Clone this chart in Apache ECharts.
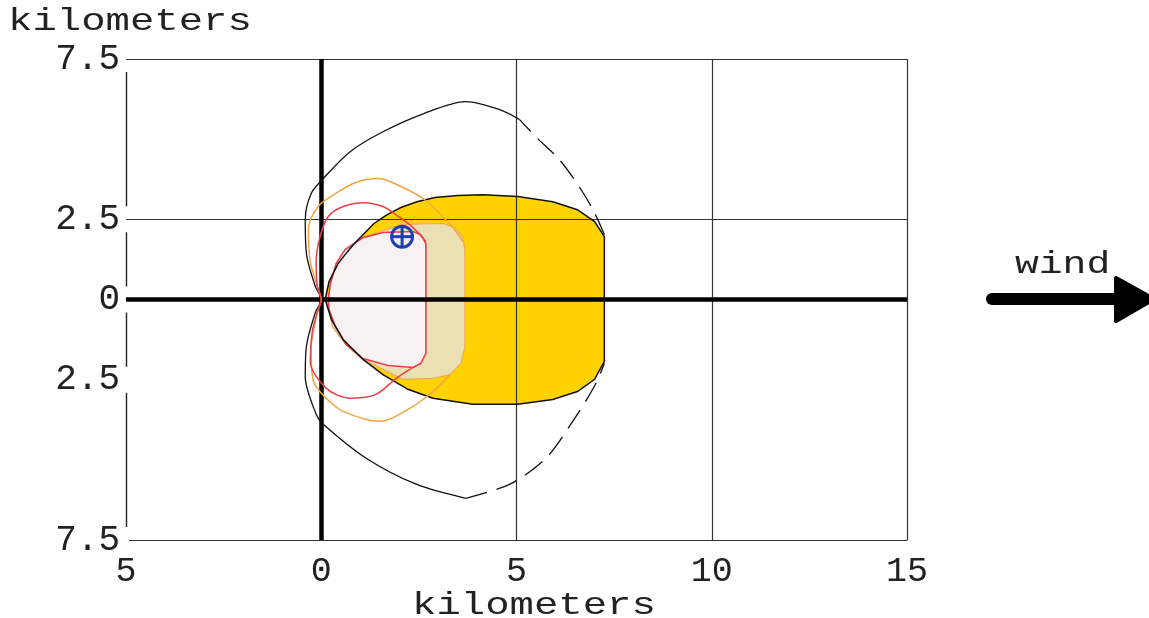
<!DOCTYPE html>
<html>
<head>
<meta charset="utf-8">
<title>Threat zone</title>
<script src="https://cdn.jsdelivr.net/npm/echarts@6/dist/echarts.min.js"></script>
<style>
  html, body { margin: 0; padding: 0; background: #fff; }
  #chart { width: 1149px; height: 618px; }
</style>
</head>
<body>
<div id="chart"></div>
<script>
// Axis ticks (km)
const xTicks = [-5, 0, 5, 10, 15];
const yLabelled = [-7.5, -2.5, 0, 2.5, 7.5];

// Threat zones, outline points in km (downwind x, crosswind y)
const yellowZone = [[0.10,0],[0.20,0.56],[0.43,1.12],[0.61,1.40],[0.82,1.71],[1.07,2.02],[1.35,2.37],[1.69,2.65],[2.04,2.87],[2.45,3.05],[2.91,3.18],[3.50,3.24],[4.14,3.27],[5.03,3.21],[5.93,3.05],[6.56,2.80],[7.00,2.43],[7.25,1.96],[7.25,-1.93],[7.00,-2.49],[6.56,-2.87],[5.93,-3.12],[5.03,-3.27],[3.88,-3.27],[2.86,-3.08],[2.22,-2.80],[1.58,-2.34],[1.07,-1.87],[0.56,-1.25],[0.26,-0.62]];
const orangeZone = [[0.18,0],[0.23,0.47],[0.38,1.06],[0.64,1.53],[1.07,1.90],[1.58,2.15],[2.09,2.34],[3.12,2.37],[3.42,2.24],[3.63,1.93],[3.68,1.50],[3.68,-1.46],[3.58,-1.99],[3.30,-2.34],[2.86,-2.46],[2.09,-2.49],[1.58,-2.18],[1.07,-1.87],[0.64,-1.43],[0.28,-0.84],[0.20,-0.31]];
const redZone = [[0.18,0],[0.23,0.47],[0.38,1.12],[0.61,1.56],[1.07,1.93],[1.58,2.09],[2.35,2.12],[2.55,2.02],[2.68,1.74],[2.68,-1.68],[2.55,-1.99],[2.35,-2.12],[1.71,-2.06],[1.07,-1.84],[0.64,-1.40],[0.36,-0.84],[0.20,-0.31]];

// Wind direction confidence lines (km)
const yellowConfSolid = [[5.08,5.61],[4.57,5.92],[3.70,6.17],[2.61,5.79],[1.58,5.23],[0.74,4.61],[0.05,3.77],[-0.26,3.30],[-0.41,2.49],[-0.38,1.43],[-0.15,0.40],[0,0],[-0.15,-0.40],[-0.38,-1.46],[-0.41,-2.40],[-0.13,-3.58],[0.05,-3.89],[1.15,-4.95],[2.43,-5.76],[3.70,-6.20]];
const yellowConfDashUpper = [[7.25,2.02],[7.02,2.65],[6.69,3.36],[6.10,4.36],[5.49,5.08],[5.08,5.61]];
const yellowConfDashLower = [[3.70,-6.20],[4.83,-5.76],[5.75,-4.95],[6.44,-3.80],[7.02,-2.65],[7.25,-1.99]];
const orangeConf = [[3.63,1.81],[3.30,2.34],[2.61,3.15],[1.76,3.68],[1.46,3.77],[0.87,3.64],[0.36,3.30],[-0.08,2.90],[-0.33,2.18],[-0.28,1.18],[-0.10,0.40],[0,0],[-0.10,-0.40],[-0.26,-1.53],[-0.20,-2.55],[0.10,-3.05],[0.56,-3.49],[1.51,-3.80],[2.35,-3.33],[2.86,-2.87],[3.30,-2.34]];
const redConf = [[2.68,1.81],[2.35,2.24],[2.02,2.55],[1.58,2.90],[1.07,3.02],[0.56,2.90],[0.18,2.59],[-0.03,1.96],[-0.13,1.18],[-0.10,0.40],[0,0],[-0.10,-0.40],[-0.23,-1.00],[-0.28,-1.93],[0.13,-2.77],[0.74,-3.08],[1.40,-2.96],[1.92,-2.46],[2.35,-2.12]];

// Point of interest (km)
const poiPoint = [[2.07, 1.96]];

// Reference lines (km)
const thinGridX = [5, 10, 15];
const thinGridY = [2.5, 7.5];

const FONT = '"Liberation Mono", "DejaVu Sans Mono", monospace';

function polygonSeries(name, pts, style, z) {
  return {
    type: 'custom', name: name, z: z, silent: true, animation: false,
    coordinateSystem: 'cartesian2d',
    encode: { x: 0, y: 1 },
    data: pts,
    renderItem: function (params, api) {
      if (params.dataIndex !== 0) return null;
      const points = pts.map(function (p) { return api.coord(p); });
      return { type: 'polygon', shape: { points: points }, style: style };
    }
  };
}

function curveSeries(name, pts, color, width, type, z) {
  return {
    type: 'line', name: name, z: z, silent: true, animation: false,
    data: pts, symbol: 'none', showSymbol: false, smooth: 0.3,
    lineStyle: { color: color, width: width, type: type }
  };
}

function markLines(name, xs, ys, color, width, z) {
  const data = [];
  xs.forEach(function (v) { data.push({ xAxis: v }); });
  ys.forEach(function (v) { data.push({ yAxis: v }); });
  return {
    type: 'line', name: name, z: z, data: [], silent: true, animation: false,
    markLine: {
      silent: true, animation: false, symbol: ['none', 'none'],
      label: { show: false }, emphasis: { disabled: true },
      lineStyle: { color: color, width: width, type: 'solid' },
      data: data
    }
  };
}

const chart = echarts.init(document.getElementById('chart'), null, { renderer: 'canvas' });

chart.setOption({
  backgroundColor: '#ffffff',
  animation: false,
  grid: { left: 126, right: 242, top: 59, bottom: 78, containLabel: false, outerBoundsMode: 'none' },
  xAxis: {
    type: 'value', min: xTicks[0], max: xTicks[xTicks.length - 1], interval: 5,
    axisLine: { show: true, onZero: false, lineStyle: { color: '#333', width: 1.2 } },
    axisTick: { show: false },
    splitLine: { show: false },
    axisLabel: {
      margin: 14, color: '#222', fontFamily: FONT, fontSize: 35,
      formatter: function (v) { return xTicks.indexOf(v) >= 0 ? String(Math.abs(v)) : ''; }
    }
  },
  yAxis: {
    type: 'value', min: -7.5, max: 7.5, interval: 2.5,
    axisLine: { show: true, onZero: false, lineStyle: { color: '#222', width: 1.4 } },
    axisTick: { show: false },
    splitLine: { show: false },
    axisLabel: {
      margin: -3, color: '#222', fontFamily: FONT, fontSize: 36,
      lineHeight: 26, backgroundColor: '#ffffff', padding: [0, 9, 0, 4],
      formatter: function (v) { return yLabelled.indexOf(v) >= 0 ? String(Math.abs(v)) : ''; }
    }
  },
  graphic: [
    { type: 'text', x: 8, y: 6, scaleX: 1.27, silent: true,
      style: { text: 'kilometers', font: '32px ' + FONT, fill: '#222' } },
    { type: 'text', x: 412, y: 590, scaleX: 1.27, silent: true,
      style: { text: 'kilometers', font: '32px ' + FONT, fill: '#222' } },
    { type: 'text', x: 1015, y: 249, scaleX: 1.24, silent: true,
      style: { text: 'wind', font: '32px ' + FONT, fill: '#222' } },
    { type: 'line', silent: true,
      shape: { x1: 992, y1: 299, x2: 1120, y2: 299 },
      style: { stroke: '#000', lineWidth: 12, lineCap: 'round' } },
    { type: 'polygon', silent: true,
      shape: { points: [[1116, 278], [1154, 299], [1116, 321]] },
      style: { fill: '#000', stroke: '#000', lineWidth: 4, lineJoin: 'round' } }
  ],
  series: [
    polygonSeries('yellow', yellowZone, { fill: '#FFD200', stroke: 'none' }, 2),
    polygonSeries('orange', orangeZone, { fill: '#EBDFB4', stroke: '#E8AE5C', lineWidth: 1.2 }, 3),
    polygonSeries('red', redZone, { fill: '#F8F1F1', stroke: '#E8414C', lineWidth: 1.6 }, 4),
    polygonSeries('yellowEdge', yellowZone, { fill: 'none', stroke: '#111', lineWidth: 1.5 }, 5),
    markLines('grid', thinGridX, thinGridY, '#333', 1.2, 6),
    curveSeries('yellowConf', yellowConfSolid, '#111', 1.3, 'solid', 7),
    curveSeries('yellowConfUpper', yellowConfDashUpper, '#111', 1.3, [22, 10], 7),
    curveSeries('yellowConfLower', yellowConfDashLower, '#111', 1.3, [22, 10], 7),
    curveSeries('orangeConf', orangeConf, '#F2A444', 1.5, 'solid', 7),
    curveSeries('redConf', redConf, '#E8414C', 1.5, 'solid', 7),
    markLines('axes0', [0], [0], '#000', 4.5, 8),
    {
      type: 'custom', name: 'poi', z: 9, silent: true, animation: false,
      coordinateSystem: 'cartesian2d', encode: { x: 0, y: 1 },
      data: poiPoint,
      renderItem: function (params, api) {
        const c = api.coord([api.value(0), api.value(1)]);
        const r = 10.5;
        const st = { stroke: '#1E3FB4', lineWidth: 3, fill: 'none' };
        return {
          type: 'group',
          children: [
            { type: 'circle', shape: { cx: c[0], cy: c[1], r: r }, style: st },
            { type: 'line', shape: { x1: c[0] - r, y1: c[1], x2: c[0] + r, y2: c[1] }, style: st },
            { type: 'line', shape: { x1: c[0], y1: c[1] - r, x2: c[0], y2: c[1] + r }, style: st }
          ]
        };
      }
    }
  ]
});
</script>
</body>
</html>
